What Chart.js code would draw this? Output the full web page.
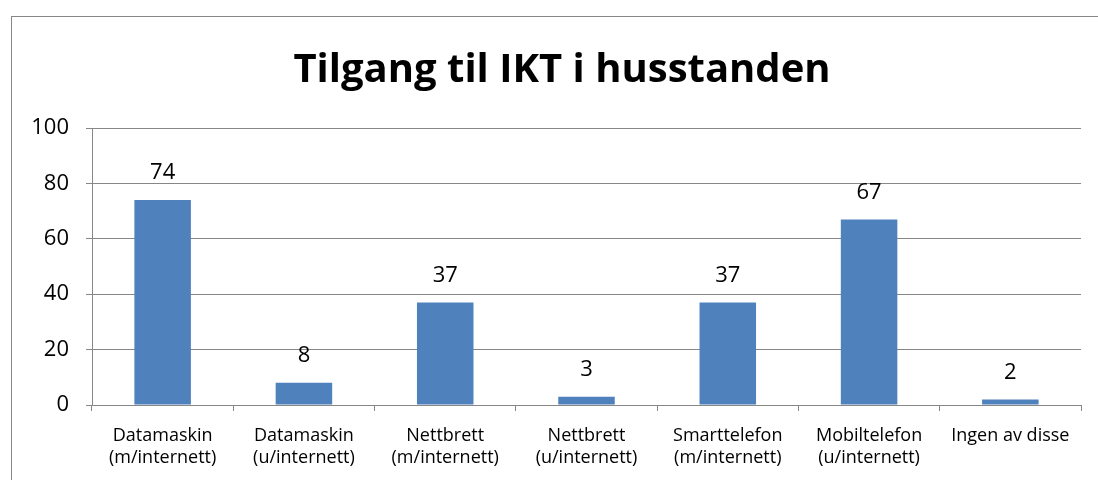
<!DOCTYPE html>
<html>
<head>
<meta charset="utf-8">
<script src="https://cdn.jsdelivr.net/npm/chart.js@4"></script>
<style>
  html, body { margin: 0; padding: 0; background: #fff; overflow: hidden; }
  body { width: 1098px; height: 480px; position: relative; }
  #frame {
    position: absolute; left: 11px; top: 16px; width: 1120px; height: 500px;
    border: 1px solid #878787; box-sizing: border-box;
  }
  #wrap { position: absolute; left: 11px; top: 16px; width: 1102px; height: 464px; }
</style>
</head>
<body>
<div id="frame"></div>
<div id="wrap"><canvas id="chart"></canvas></div>
<script>
const categories = [
  ["Datamaskin", "(m/internett)"],
  ["Datamaskin", "(u/internett)"],
  ["Nettbrett", "(m/internett)"],
  ["Nettbrett", "(u/internett)"],
  ["Smarttelefon", "(m/internett)"],
  ["Mobiltelefon", "(u/internett)"],
  "Ingen av disse",
];
const values = [74, 8, 37, 3, 37, 67, 2];
const yTicks = [0, 20, 40, 60, 80, 100];
const titleText = "Tilgang til IKT i husstanden";

const FONT = "'Open Sans', 'Noto Sans', sans-serif";
const GRID = "#878787";

// value labels above the bars + title centred on the whole frame
const extras = {
  id: "extras",
  afterDatasetsDraw(chart) {
    const { ctx } = chart;
    const meta = chart.getDatasetMeta(0);
    ctx.save();
    ctx.font = "22px " + FONT;
    ctx.fillStyle = "#000";
    ctx.textAlign = "center";
    ctx.textBaseline = "middle";
    meta.data.forEach((bar, i) => {
      ctx.fillText(values[i], bar.x, bar.y - 27);
    });
    ctx.font = "bold 40px " + FONT;
    ctx.fillText(titleText, chart.width / 2, 55);
    ctx.restore();
  },
};

new Chart(document.getElementById("chart"), {
  type: "bar",
  data: {
    labels: categories,
    datasets: [
      {
        data: values,
        backgroundColor: "#4f81bd",
        barPercentage: 0.4,
        categoryPercentage: 1,
      },
    ],
  },
  options: {
    responsive: true,
    maintainAspectRatio: false,
    animation: false,
    layout: { padding: { left: 0, right: 32, top: 112, bottom: 0 } },
    plugins: {
      legend: { display: false },
      tooltip: { enabled: false },
      title: { display: false },
    },
    scales: {
      x: {
        grid: {
          offset: true,
          drawOnChartArea: false,
          drawTicks: true,
          tickLength: 6,
          color: GRID,
          tickColor: GRID,
        },
        border: { color: GRID },
        ticks: {
          color: "#000",
          font: { family: FONT, size: 18, lineHeight: "22px" },
          maxRotation: 0,
          autoSkip: false,
          padding: 14,
        },
        afterFit(scale) { scale.height = 75; },
      },
      y: {
        min: 0,
        max: 100,
        afterBuildTicks(scale) { scale.ticks = yTicks.map((v) => ({ value: v })); },
        grid: { color: GRID, tickColor: GRID, tickLength: 6 },
        border: { color: GRID },
        ticks: {
          color: "#000",
          font: { family: FONT, size: 22 },
          padding: 17,
        },
        afterFit(scale) { scale.width = 81; },
      },
    },
  },
  plugins: [extras],
});
</script>
</body>
</html>
